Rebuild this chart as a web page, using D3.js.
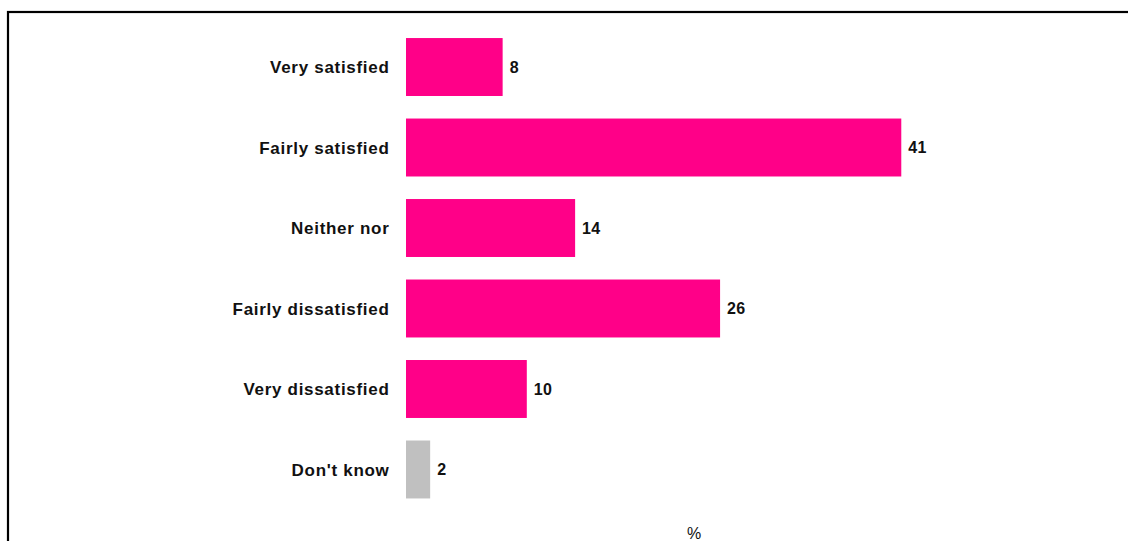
<!DOCTYPE html>
<html>
<head>
<meta charset="utf-8">
<script src="https://cdn.jsdelivr.net/npm/d3@7"></script>
<style>
  html, body { margin: 0; padding: 0; background: #fff; }
  svg { display: block; }
  .cat { font-family: "Liberation Sans", Arial, sans-serif; font-weight: bold; font-size: 17px; letter-spacing: 0.7px; fill: #111; }
  .val { font-family: "Liberation Sans", Arial, sans-serif; font-weight: bold; font-size: 16px; letter-spacing: 0.3px; fill: #111; }
  .unit { font-family: "Liberation Sans", Arial, sans-serif; font-size: 16px; fill: #111; }
</style>
</head>
<body>
<script>
// Satisfaction responses, percent of respondents
const categories = ["Very satisfied", "Fairly satisfied", "Neither nor", "Fairly dissatisfied", "Very dissatisfied", "Don't know"];
const values = [8, 41, 14, 26, 10, 2];
const barColors = ["#ff0088", "#ff0088", "#ff0088", "#ff0088", "#ff0088", "#c0c0c0"];
const unitLabel = "%";

const width = 1128, height = 541;

const svg = d3.select("body").append("svg")
  .attr("width", width)
  .attr("height", height);

// Outer frame, open past the right and bottom edges
svg.append("rect")
  .attr("x", 8).attr("y", 12)
  .attr("width", 1200).attr("height", 700)
  .attr("fill", "none")
  .attr("stroke", "#000")
  .attr("stroke-width", 2.2);

const x = d3.scaleLinear().domain([0, 48]).range([406, 406 + 48 * 12.08]);
const y = d3.scaleBand().domain(categories).range([15.5, 521]).padding(0.28);

const rows = categories.map((c, i) => ({ cat: c, v: values[i], color: barColors[i] }));

svg.append("g").selectAll("rect")
  .data(rows)
  .join("rect")
  .attr("x", x(0))
  .attr("y", d => y(d.cat))
  .attr("width", d => x(d.v) - x(0))
  .attr("height", y.bandwidth())
  .attr("fill", d => d.color);

// Category labels to the left of the bars
svg.append("g").selectAll("text")
  .data(rows)
  .join("text")
  .attr("class", "cat")
  .attr("x", x(0) - 16.5)
  .attr("y", d => y(d.cat) + y.bandwidth() / 2)
  .attr("dy", "0.36em")
  .attr("text-anchor", "end")
  .text(d => d.cat);

// Value labels at the bar ends
svg.append("g").selectAll("text")
  .data(rows)
  .join("text")
  .attr("class", "val")
  .attr("x", d => x(d.v) + 7)
  .attr("y", d => y(d.cat) + y.bandwidth() / 2)
  .attr("dy", "0.36em")
  .text(d => d.v);

// Unit label under the plot
svg.append("text")
  .attr("class", "unit")
  .attr("x", 694)
  .attr("y", 539)
  .attr("text-anchor", "middle")
  .text(unitLabel);
</script>
</body>
</html>
